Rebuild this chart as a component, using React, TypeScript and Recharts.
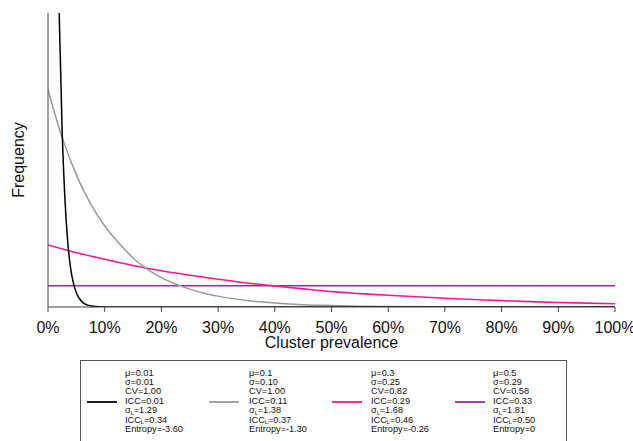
import React from 'react';
import { LineChart, Line, XAxis, YAxis, Legend } from 'recharts';

// ---- data ----
const blackX = [0, 0.5, 1, 1.5, 2, 2.5, 3, 3.5, 4, 4.5, 5, 5.5, 6, 6.5, 7, 8, 9, 10, 12, 15, 20, 40, 60, 80, 100];
const blackY = [100, 60, 37, 22, 13.5, 8.2, 5.0, 3.0, 1.8, 1.1, 0.67, 0.41, 0.25, 0.15, 0.09, 0.035, 0.012, 0.005, 0.001, 0, 0, 0, 0, 0, 0];

const grayX = [0, 2.5, 5, 7.5, 10, 12.5, 15, 17.5, 20, 22.5, 25, 27.5, 30, 35, 40, 45, 50, 55, 60, 70, 80, 90, 100];
const grayY = [10.2, 7.95, 6.2, 4.85, 3.8, 3.0, 2.3, 1.78, 1.38, 1.08, 0.84, 0.65, 0.51, 0.31, 0.19, 0.11, 0.07, 0.04, 0.025, 0.01, 0.004, 0.002, 0.001];

const pinkX = [0, 5, 10, 15, 20, 25, 30, 35, 40, 45, 50, 55, 60, 65, 70, 75, 80, 85, 90, 95, 100];
const pinkY = [2.91, 2.55, 2.24, 1.95, 1.70, 1.49, 1.30, 1.13, 0.99, 0.85, 0.72, 0.63, 0.55, 0.48, 0.41, 0.35, 0.30, 0.25, 0.21, 0.18, 0.155];

const purpleX = [0, 100];
const purpleY = [1, 1];

const xTicks = [0, 10, 20, 30, 40, 50, 60, 70, 80, 90, 100];

const seriesColors = ['#000000', '#999999', '#FF1493', '#9B2AA6'];
const muLabels = ['0.01', '0.1', '0.3', '0.5'];
const sigmaLabels = ['0.01', '0.10', '0.25', '0.29'];
const cvLabels = ['1.00', '1.00', '0.82', '0.58'];
const iccLabels = ['0.01', '0.11', '0.29', '0.33'];
const sigmaLLabels = ['1.29', '1.38', '1.68', '1.81'];
const iccLLabels = ['0.34', '0.37', '0.46', '0.50'];
const entropyLabels = ['-3.60', '-1.30', '-0.26', '0'];

const toData = (xs: number[], ys: number[]) => xs.map((x, i) => ({ x, y: ys[i] }));
const blackData = toData(blackX, blackY);
const grayData = toData(grayX, grayY);
const pinkData = toData(pinkX, pinkY);
const purpleData = toData(purpleX, purpleY);

const FONT = '"Liberation Sans", Arial, Helvetica, sans-serif';
const AXIS = '#444';

const XTick = (props: any) => {
  const { x, y, payload } = props;
  return (
    <text x={x} y={y} dy={21.3} textAnchor="middle" fontSize={16} fontFamily={FONT} fill="#111">
      {payload.value + '%'}
    </text>
  );
};

const XLabel = (props: any) => {
  const vb = props.viewBox || {};
  return (
    <text x={vb.x + vb.width / 2} y={vb.y + 41.3} textAnchor="middle" fontSize={16} fontFamily={FONT} fill="#111">
      Cluster prevalence
    </text>
  );
};

const YLabel = (props: any) => {
  const vb = props.viewBox || {};
  const cx = vb.x + 18;
  const cy = vb.y + vb.height / 2;
  return (
    <text
      x={cx}
      y={cy}
      transform={`rotate(-90, ${cx}, ${cy})`}
      textAnchor="middle"
      dominantBaseline="central"
      fontSize={16}
      fontFamily={FONT}
      fill="#111"
    >
      Frequency
    </text>
  );
};

const colText = [45, 169, 291, 413];
const colLine = [7, 129, 252, 375];
const LH = 9.45;

const Sub = () => (
  <span style={{ fontSize: 5.5, position: 'relative', top: 1.5, lineHeight: 0 }}>L</span>
);

const LegendBox = () => (
  <div
    style={{
      position: 'relative',
      width: 487,
      height: 100,
      border: '1px solid #555',
      boxSizing: 'border-box',
      fontFamily: FONT,
      fontSize: 9.2,
      color: '#111',
      background: '#fff',
    }}
  >
    {seriesColors.map((c, i) => {
      const lines: React.ReactNode[] = [
        <>μ={muLabels[i]}</>,
        <>σ={sigmaLabels[i]}</>,
        <>CV={cvLabels[i]}</>,
        <>ICC={iccLabels[i]}</>,
        <>σ<Sub />={sigmaLLabels[i]}</>,
        <>ICC<Sub />={iccLLabels[i]}</>,
        <>Entropy={entropyLabels[i]}</>,
      ];
      return (
        <React.Fragment key={i}>
          <svg
            width={30}
            height={6}
            style={{ position: 'absolute', left: colLine[i] - 1, top: 41.7 - 1 - 3, overflow: 'visible' }}
          >
            <line x1={0} y1={3} x2={30} y2={3} stroke={c} strokeWidth={1.8} />
          </svg>
          <div style={{ position: 'absolute', left: colText[i] - 1, top: 7.6, whiteSpace: 'nowrap' }}>
            {lines.map((l, j) => (
              <div key={j} style={{ height: LH, lineHeight: LH + 'px' }}>
                {l}
              </div>
            ))}
          </div>
        </React.Fragment>
      );
    })}
  </div>
);

export default function App() {
  return (
    <div style={{ position: 'absolute', left: 0, top: 0, width: 633, height: 441, overflow: 'hidden', background: '#fff' }}>
      <LineChart width={633} height={441} margin={{ top: 13, right: 18, left: 0, bottom: 0 }}>
        <XAxis
          type="number"
          dataKey="x"
          domain={[0, 100]}
          ticks={xTicks}
          interval={0}
          height={134}
          tickSize={5}
          tickMargin={0}
          tick={<XTick />}
          axisLine={{ stroke: AXIS }}
          tickLine={{ stroke: AXIS }}
          label={<XLabel />}
          allowDataOverflow
        />
        <YAxis
          type="number"
          domain={[0, 13.8]}
          allowDataOverflow
          width={48}
          tick={false}
          tickLine={false}
          axisLine={{ stroke: AXIS }}
          label={<YLabel />}
        />
        <Legend
          layout="horizontal"
          verticalAlign="middle"
          align="center"
          wrapperStyle={{ position: 'absolute', left: 80, top: 360, width: 487, height: 100 }}
          content={() => <LegendBox />}
        />
        <Line data={purpleData} dataKey="y" type="linear" stroke={seriesColors[3]} strokeWidth={1.6} dot={false} isAnimationActive={false} />
        <Line data={pinkData} dataKey="y" type="monotone" stroke={seriesColors[2]} strokeWidth={1.6} dot={false} isAnimationActive={false} />
        <Line data={grayData} dataKey="y" type="monotone" stroke={seriesColors[1]} strokeWidth={1.5} dot={false} isAnimationActive={false} />
        <Line data={blackData} dataKey="y" type="monotone" stroke={seriesColors[0]} strokeWidth={1.5} dot={false} isAnimationActive={false} />
      </LineChart>
    </div>
  );
}
